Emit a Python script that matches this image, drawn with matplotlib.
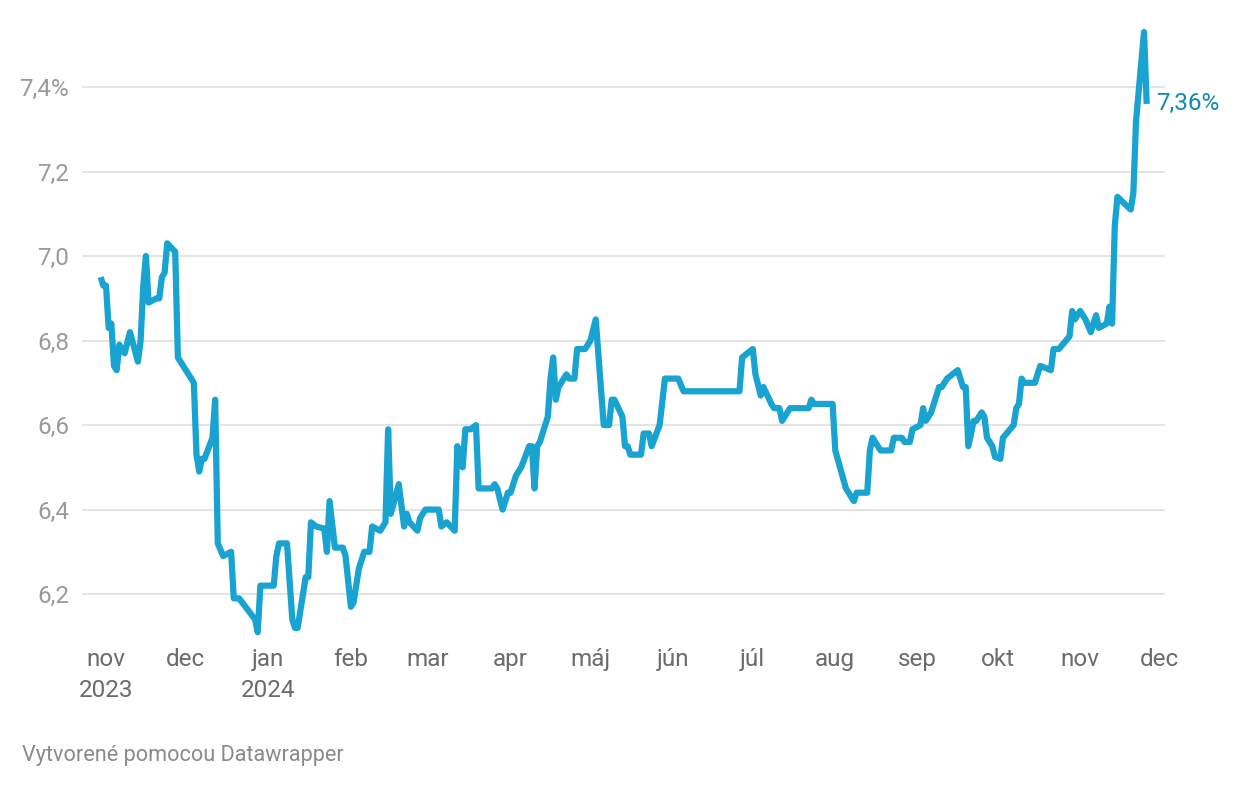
import matplotlib
matplotlib.use("Agg")
import matplotlib.pyplot as plt
import pandas as pd

# ---- data ----
dates = [
    "2023-10-30", "2023-10-31", "2023-11-01", "2023-11-02", "2023-11-03", "2023-11-04",
    "2023-11-05", "2023-11-06", "2023-11-08", "2023-11-10", "2023-11-13", "2023-11-14",
    "2023-11-15", "2023-11-16", "2023-11-17", "2023-11-20", "2023-11-21", "2023-11-22",
    "2023-11-23", "2023-11-24", "2023-11-27", "2023-11-28", "2023-12-04", "2023-12-05",
    "2023-12-06", "2023-12-07", "2023-12-08", "2023-12-11", "2023-12-12", "2023-12-13",
    "2023-12-15", "2023-12-18", "2023-12-19", "2023-12-21", "2023-12-27", "2023-12-28",
    "2023-12-29", "2024-01-03", "2024-01-04", "2024-01-05", "2024-01-08", "2024-01-09",
    "2024-01-10", "2024-01-11", "2024-01-12", "2024-01-15", "2024-01-16", "2024-01-17",
    "2024-01-19", "2024-01-22", "2024-01-23", "2024-01-24", "2024-01-26", "2024-01-29",
    "2024-01-30", "2024-02-01", "2024-02-02", "2024-02-04", "2024-02-06", "2024-02-08",
    "2024-02-09", "2024-02-12", "2024-02-13", "2024-02-14", "2024-02-15", "2024-02-16",
    "2024-02-19", "2024-02-21", "2024-02-22", "2024-02-23", "2024-02-26", "2024-02-27",
    "2024-02-29", "2024-03-05", "2024-03-06", "2024-03-08", "2024-03-11", "2024-03-12",
    "2024-03-14", "2024-03-15", "2024-03-17", "2024-03-19", "2024-03-20", "2024-03-25",
    "2024-03-26", "2024-03-27", "2024-03-29", "2024-03-31", "2024-04-01", "2024-04-03",
    "2024-04-05", "2024-04-08", "2024-04-09", "2024-04-10", "2024-04-11", "2024-04-12",
    "2024-04-15", "2024-04-16", "2024-04-17", "2024-04-18", "2024-04-19", "2024-04-22",
    "2024-04-23", "2024-04-25", "2024-04-26", "2024-04-29", "2024-05-01", "2024-05-03",
    "2024-05-06", "2024-05-08", "2024-05-09", "2024-05-10", "2024-05-13", "2024-05-14",
    "2024-05-15", "2024-05-16", "2024-05-20", "2024-05-21", "2024-05-23", "2024-05-24",
    "2024-05-27", "2024-05-29", "2024-06-03", "2024-06-05", "2024-06-26", "2024-06-27",
    "2024-06-28", "2024-07-01", "2024-07-02", "2024-07-04", "2024-07-05", "2024-07-08",
    "2024-07-09", "2024-07-11", "2024-07-12", "2024-07-15", "2024-07-22", "2024-07-23",
    "2024-07-24", "2024-07-31", "2024-08-01", "2024-08-05", "2024-08-06", "2024-08-08",
    "2024-08-09", "2024-08-13", "2024-08-14", "2024-08-15", "2024-08-18", "2024-08-22",
    "2024-08-23", "2024-08-26", "2024-08-27", "2024-08-29", "2024-08-30", "2024-09-02",
    "2024-09-03", "2024-09-04", "2024-09-06", "2024-09-09", "2024-09-10", "2024-09-12",
    "2024-09-16", "2024-09-17", "2024-09-18", "2024-09-19", "2024-09-20", "2024-09-22",
    "2024-09-23", "2024-09-25", "2024-09-26", "2024-09-27", "2024-09-29", "2024-09-30",
    "2024-10-02", "2024-10-03", "2024-10-07", "2024-10-08", "2024-10-09", "2024-10-10",
    "2024-10-11", "2024-10-15", "2024-10-17", "2024-10-19", "2024-10-21", "2024-10-22",
    "2024-10-24", "2024-10-28", "2024-10-29", "2024-10-30", "2024-11-01", "2024-11-03",
    "2024-11-05", "2024-11-07", "2024-11-08", "2024-11-11", "2024-11-12", "2024-11-13",
    "2024-11-14", "2024-11-15", "2024-11-20", "2024-11-21", "2024-11-22", "2024-11-25",
    "2024-11-26",
]
values = [
    6.95, 6.93, 6.93, 6.83, 6.84, 6.74,
    6.73, 6.79, 6.77, 6.82, 6.75, 6.80,
    6.93, 7.00, 6.89, 6.90, 6.90, 6.95,
    6.96, 7.03, 7.01, 6.76, 6.70, 6.53,
    6.49, 6.52, 6.52, 6.57, 6.66, 6.32,
    6.29, 6.30, 6.19, 6.19, 6.14, 6.11,
    6.22, 6.22, 6.29, 6.32, 6.32, 6.23,
    6.14, 6.12, 6.12, 6.24, 6.24, 6.37,
    6.36, 6.355, 6.30, 6.42, 6.31, 6.31,
    6.29, 6.17, 6.18, 6.26, 6.30, 6.30,
    6.36, 6.35, 6.36, 6.37, 6.59, 6.39,
    6.46, 6.36, 6.39, 6.37, 6.35, 6.38,
    6.40, 6.40, 6.36, 6.37, 6.35, 6.55,
    6.50, 6.59, 6.59, 6.60, 6.45, 6.45,
    6.46, 6.45, 6.40, 6.44, 6.44, 6.48,
    6.50, 6.55, 6.55, 6.45, 6.55, 6.56,
    6.62, 6.71, 6.76, 6.66, 6.69, 6.72,
    6.71, 6.71, 6.78, 6.78, 6.80, 6.85,
    6.60, 6.60, 6.66, 6.66, 6.62, 6.55,
    6.55, 6.53, 6.53, 6.58, 6.58, 6.55,
    6.60, 6.71, 6.71, 6.68, 6.68, 6.76,
    6.765, 6.78, 6.72, 6.67, 6.69, 6.65,
    6.64, 6.64, 6.61, 6.64, 6.64, 6.66,
    6.65, 6.65, 6.54, 6.45, 6.44, 6.42,
    6.44, 6.44, 6.54, 6.57, 6.54, 6.54,
    6.57, 6.57, 6.56, 6.56, 6.59, 6.60,
    6.64, 6.61, 6.63, 6.69, 6.69, 6.71,
    6.73, 6.71, 6.69, 6.69, 6.55, 6.61,
    6.61, 6.63, 6.62, 6.57, 6.55, 6.525,
    6.52, 6.57, 6.60, 6.64, 6.65, 6.71,
    6.70, 6.70, 6.74, 6.735, 6.73, 6.78,
    6.78, 6.81, 6.87, 6.85, 6.87, 6.85,
    6.82, 6.86, 6.83, 6.84, 6.88, 6.84,
    7.07, 7.14, 7.11, 7.15, 7.32, 7.53,
    7.36,
]
tick_dates = ["2023-11-01", "2023-12-01", "2024-01-01", "2024-02-01", "2024-03-01",
              "2024-04-01", "2024-05-01", "2024-06-01", "2024-07-01", "2024-08-01",
              "2024-09-01", "2024-10-01", "2024-11-01", "2024-12-01"]
tick_labels = ["nov\n2023", "dec", "jan\n2024", "feb", "mar", "apr", "máj", "jún",
               "júl", "aug", "sep", "okt", "nov", "dec"]
y_ticks = [6.2, 6.4, 6.6, 6.8, 7.0, 7.2, 7.4]
y_tick_labels = ["6,2", "6,4", "6,6", "6,8", "7,0", "7,2", "7,4%"]
last_label = "7,36%"
footer = "Vytvorené pomocou Datawrapper"

LINE = "#19a3d1"
LABEL = "#1289b3"

plt.rcParams['font.family'] = ['Roboto', 'DejaVu Sans']

W, H = 1240, 788
fig = plt.figure(figsize=(W / 100, H / 100), dpi=100)
ax = fig.add_axes([82 / W, (H - 640) / H, (1165 - 82) / W, 620 / H])

x = pd.to_datetime(dates)
ax.plot(x, values, color=LINE, lw=4.5, solid_joinstyle='round',
        solid_capstyle='butt', zorder=3)

ax.set_xlim(pd.Timestamp("2023-11-01") - pd.Timedelta(days=9.02),
            pd.Timestamp("2024-12-01") + pd.Timedelta(days=1.88))
ax.set_ylim(6.0914, 7.5586)

ax.set_yticks(y_ticks)
ax.set_yticklabels(y_tick_labels)
ax.set_xticks(pd.to_datetime(tick_dates))
ax.set_xticklabels(tick_labels, linespacing=1.45)

ax.yaxis.grid(True, color="#e2e2e2", lw=1.3)
ax.xaxis.grid(False)
ax.set_axisbelow(True)
for s in ax.spines.values():
    s.set_visible(False)
ax.tick_params(axis='y', length=0, pad=9.4, labelsize=17.5, labelcolor="#9a9a9a")
ax.tick_params(axis='x', length=0, pad=5.5, labelsize=17.5, labelcolor="#6b6b6b")

ax.annotate(last_label, xy=(x[-1], values[-1]), xytext=(7, 0),
            textcoords='offset points', ha='left', va='center',
            fontsize=17.5, color=LABEL)

fig.text(22 / W, 1 - 755 / H, footer, ha='left', va='center',
         fontsize=15.6, color="#8a8a8a")

fig.savefig("out.png", dpi=100)
